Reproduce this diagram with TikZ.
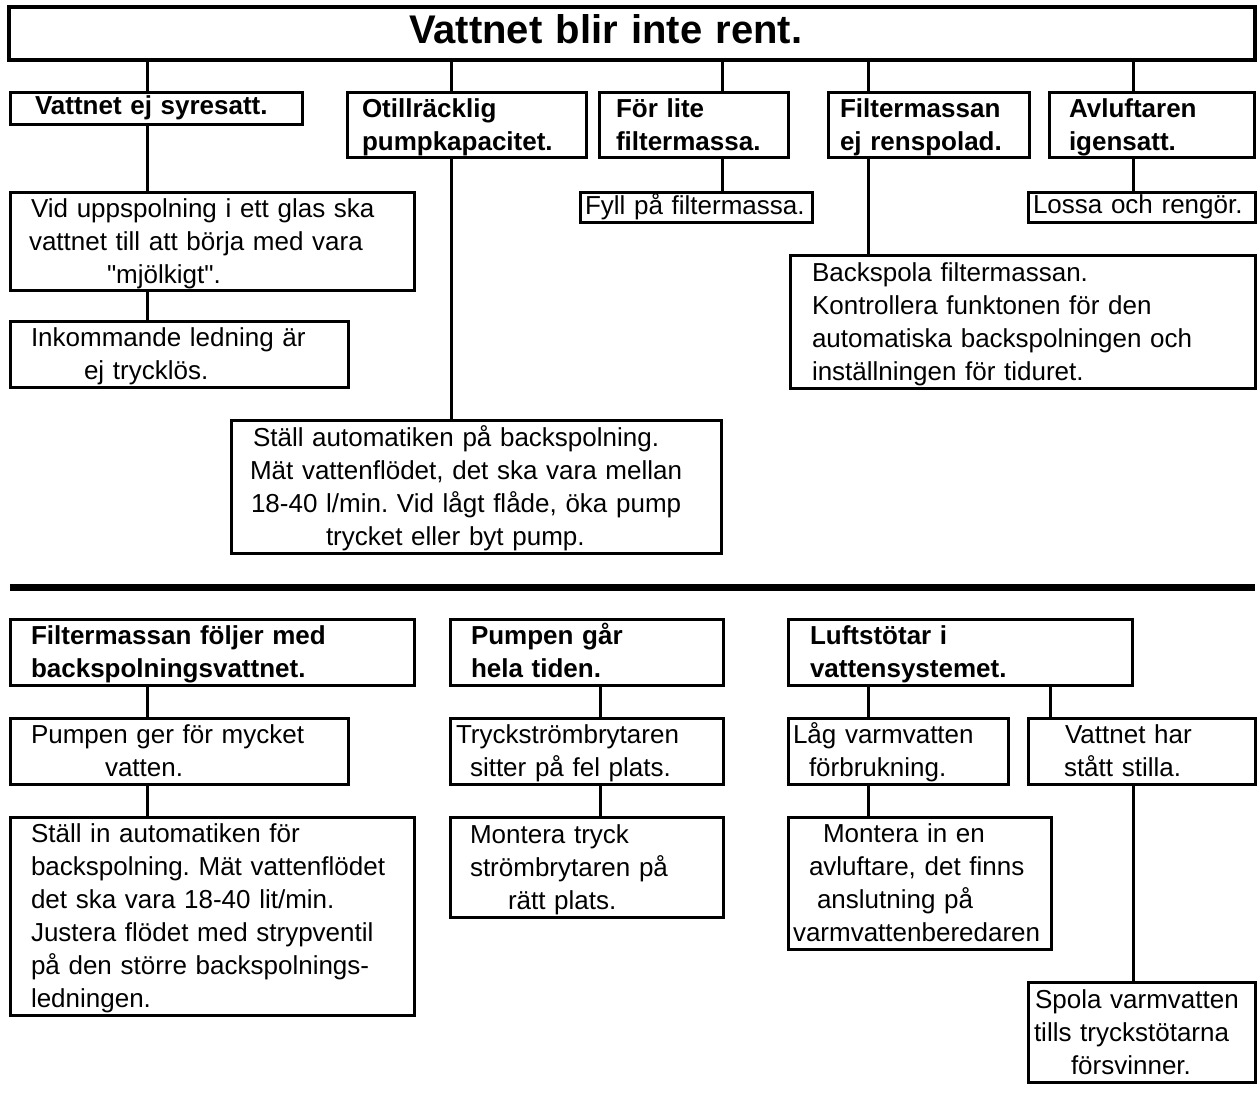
\documentclass[tikz,border=0pt]{standalone}
\usepackage{fontspec}
\setmainfont{Liberation Sans}
\newcommand\rowtxt[2]{\hspace*{#1pt}\rule[-0.275em]{0pt}{1.26em}#2}
\newcommand\onetxt[2]{\hspace*{#1pt}\rule[-0.2em]{0pt}{0.92em}#2}
\begin{document}
\frenchspacing
\begin{tikzpicture}[x=1pt,y=-1pt,
  box/.style={draw, line width=3pt, anchor=north west, inner sep=0pt, outer sep=0pt,
    align=left, font=\fontsize{26}{33}\selectfont},
  hbox/.style={box, font=\fontsize{26}{33}\selectfont\bfseries},
  tbox/.style={box, line width=4.5pt, font=\fontsize{40}{50}\selectfont\bfseries},
  conn/.style={line width=3pt},
  divider/.style={line width=7pt}]
\useasboundingbox (0,0) rectangle (1258,1109);

% title
\node[tbox, text width=1246pt, minimum height=53pt] (T) at (9,7) {\onetxt{400}{Vattnet blir inte rent.}};

% first level
\node[hbox, text width=292pt, minimum height=32pt] (B1) at (10,92) {\onetxt{25}{Vattnet ej syresatt.}};
\node[hbox, text width=239pt, minimum height=65pt] (B2) at (347,92) {\rowtxt{15}{Otillräcklig}\\\rowtxt{15}{pumpkapacitet.}};
\node[hbox, text width=189pt, minimum height=65pt] (B3) at (599,92) {\rowtxt{17}{För lite}\\\rowtxt{17}{filtermassa.}};
\node[hbox, text width=201pt, minimum height=65pt] (B4) at (828,92) {\rowtxt{12}{Filtermassan}\\\rowtxt{12}{ej renspolad.}};
\node[hbox, text width=205pt, minimum height=65pt] (B5) at (1049,92) {\rowtxt{20}{Avluftaren}\\\rowtxt{20}{igensatt.}};

% second level
\node[box, text width=404pt, minimum height=97pt] (A1) at (10,192) {\rowtxt{21}{Vid uppspolning i ett glas ska}\\\rowtxt{19}{vattnet till att börja med vara}\\\rowtxt{97}{\textquotedbl mjölkigt\textquotedbl .}};
\node[box, text width=338pt, minimum height=66pt] (A2) at (10,321) {\rowtxt{21}{Inkommande ledning är}\\\rowtxt{74}{ej trycklös.}};
\node[box, text width=490pt, minimum height=133pt] (A3) at (231,420) {\rowtxt{22}{Ställ automatiken på backspolning.}\\\rowtxt{19}{Mät vattenflödet, det ska vara mellan}\\\rowtxt{20}{18-40 l/min. Vid lågt flåde, öka pump}\\\rowtxt{95}{trycket eller byt pump.}};
\node[box, text width=232pt, minimum height=30pt] (A4) at (580,192) {\onetxt{5}{Fyll på filtermassa.}};
\node[box, text width=465pt, minimum height=133pt] (A5) at (790,255) {\rowtxt{22}{Backspola filtermassan.}\\\rowtxt{22}{Kontrollera funktonen för den}\\\rowtxt{22}{automatiska backspolningen och}\\\rowtxt{22}{inställningen för tiduret.}};
\node[box, text width=227pt, minimum height=30pt] (A6) at (1028,192) {\onetxt{5}{Lossa och rengör.}};

% connectors upper part
\coordinate (k1) at (147,0);
\coordinate (k2) at (451,0);
\coordinate (k3) at (722,0);
\coordinate (k4) at (868,0);
\coordinate (k5) at (1133,0);
\draw[conn] (T.south -| k1) -- (B1.north -| k1);
\draw[conn] (T.south -| k2) -- (B2.north -| k2);
\draw[conn] (T.south -| k3) -- (B3.north -| k3);
\draw[conn] (T.south -| k4) -- (B4.north -| k4);
\draw[conn] (T.south -| k5) -- (B5.north -| k5);
\draw[conn] (B1.south -| k1) -- (A1.north -| k1);
\draw[conn] (A1.south -| k1) -- (A2.north -| k1);
\draw[conn] (B2.south -| k2) -- (A3.north -| k2);
\draw[conn] (B3.south -| k3) -- (A4.north -| k3);
\draw[conn] (B4.south -| k4) -- (A5.north -| k4);
\draw[conn] (B5.south -| k5) -- (A6.north -| k5);

% divider
\draw[divider] (10,587) -- (1255,587);

% lower part
\node[hbox, text width=404pt, minimum height=66pt] (C1) at (10,619) {\rowtxt{21}{Filtermassan följer med}\\\rowtxt{21}{backspolningsvattnet.}};
\node[hbox, text width=273pt, minimum height=66pt] (C2) at (450,619) {\rowtxt{21}{Pumpen går}\\\rowtxt{21}{hela tiden.}};
\node[hbox, text width=344pt, minimum height=66pt] (C3) at (788,619) {\rowtxt{22}{Luftstötar i}\\\rowtxt{22}{vattensystemet.}};

\node[box, text width=338pt, minimum height=66pt] (D1) at (10,718) {\rowtxt{21}{Pumpen ger för mycket}\\\rowtxt{95}{vatten.}};
\node[box, text width=273pt, minimum height=66pt] (D2) at (450,718) {\rowtxt{6}{Tryckströmbrytaren}\\\rowtxt{20}{sitter på fel plats.}};
\node[box, text width=220pt, minimum height=66pt] (D3) at (788,718) {\rowtxt{5}{Låg varmvatten}\\\rowtxt{21}{förbrukning.}};
\node[box, text width=227pt, minimum height=66pt] (D4) at (1028,718) {\rowtxt{37}{Vattnet har}\\\rowtxt{36}{stått stilla.}};

\node[box, text width=404pt, minimum height=198pt] (E1) at (10,817) {\rowtxt{21}{Ställ in automatiken för}\\\rowtxt{21}{backspolning. Mät vattenflödet}\\\rowtxt{21}{det ska vara 18-40 lit/min.}\\\rowtxt{21}{Justera flödet med strypventil}\\\rowtxt{21}{på den större backspolnings-}\\\rowtxt{21}{ledningen.}};
\node[box, text width=273pt, minimum height=100pt] (E2) at (450,817) {\rowtxt{20}{Montera tryck}\\\rowtxt{20}{strömbrytaren på}\\\rowtxt{58}{rätt plats.}};
\node[box, text width=263pt, minimum height=132pt] (E3) at (788,817) {\rowtxt{35}{Montera in en}\\\rowtxt{21}{avluftare, det finns}\\\rowtxt{29}{anslutning på}\\\rowtxt{5}{varmvattenberedaren}};
\node[box, text width=227pt, minimum height=100pt] (E4) at (1028,982) {\rowtxt{7}{Spola varmvatten}\\\rowtxt{6}{tills tryckstötarna}\\\rowtxt{43}{försvinner.}};

% connectors lower part
\coordinate (m1) at (147,0);
\coordinate (m2) at (600,0);
\coordinate (m3) at (868,0);
\coordinate (m4) at (1050,0);
\coordinate (m5) at (1133,0);
\draw[conn] (C1.south -| m1) -- (D1.north -| m1);
\draw[conn] (D1.south -| m1) -- (E1.north -| m1);
\draw[conn] (C2.south -| m2) -- (D2.north -| m2);
\draw[conn] (D2.south -| m2) -- (E2.north -| m2);
\draw[conn] (C3.south -| m3) -- (D3.north -| m3);
\draw[conn] (C3.south -| m4) -- (D4.north -| m4);
\draw[conn] (D3.south -| m3) -- (E3.north -| m3);
\draw[conn] (D4.south -| m5) -- (E4.north -| m5);
\end{tikzpicture}
\end{document}
